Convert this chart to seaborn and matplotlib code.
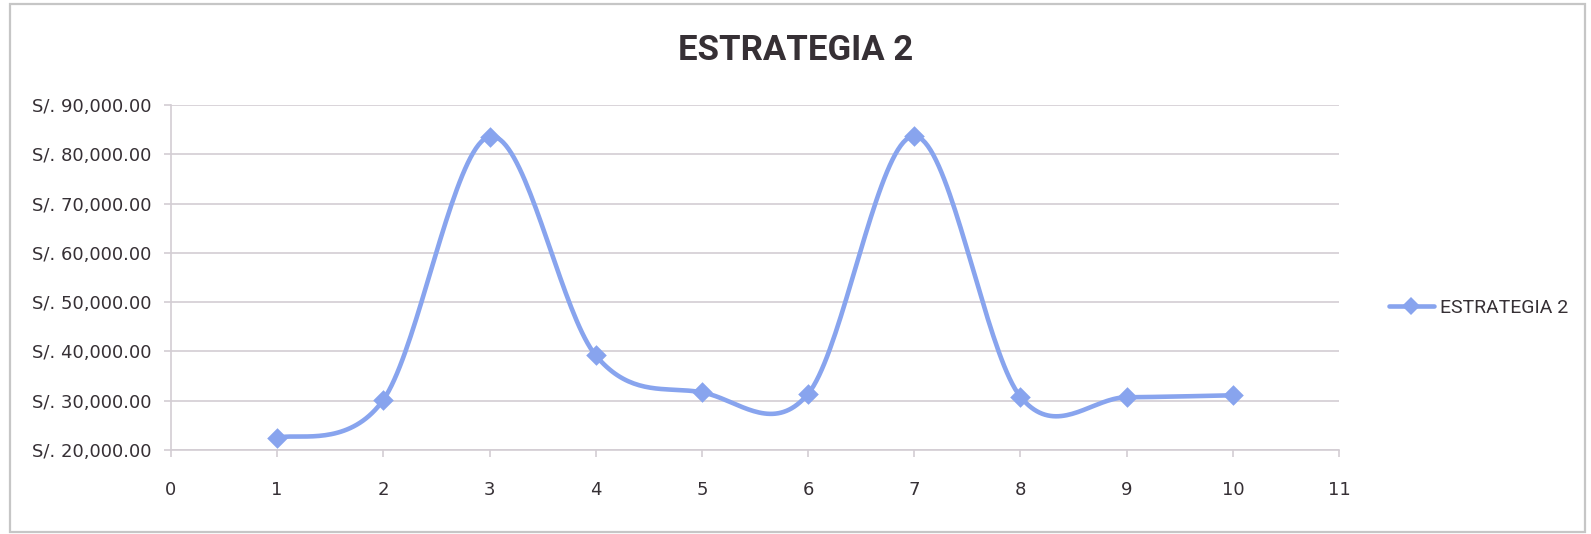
import numpy as np
import matplotlib
matplotlib.use("Agg")
import matplotlib.pyplot as plt
from matplotlib.lines import Line2D
from matplotlib.patches import Rectangle
from matplotlib.ticker import FuncFormatter
import seaborn as sns

# Series data
periods = [1, 2, 3, 4, 5, 6, 7, 8, 9, 10]
values = [22400, 30200, 83600, 39200, 31700, 31400, 83700, 30800, 30700, 31100]
series_name = "ESTRATEGIA 2"
chart_title = "ESTRATEGIA 2"
x_ticks = list(range(0, 12))
y_ticks = [20000, 30000, 40000, 50000, 60000, 70000, 80000, 90000]

LINE_COLOR = "#88a4ee"
GRID_COLOR = "#d3cdd3"
TEXT_COLOR = "#363035"

sns.set_theme(style="white")
plt.rcParams["font.family"] = ["DejaVu Sans"]
HEAD_FONT = ["Roboto", "DejaVu Sans"]


def smooth_curve(xs, ys, steps=40):
    """Bezier smoothing through every point (Catmull-Rom style control points)."""
    px = np.asarray(xs, float)
    py = np.asarray(ys, float)
    n = len(px)
    out_x, out_y = [], []
    t = np.linspace(0, 1, steps)
    for i in range(n - 1):
        i0, i3 = max(i - 1, 0), min(i + 2, n - 1)
        for p, store in ((px, out_x), (py, out_y)):
            p0, p1, p2, p3 = p[i0], p[i], p[i + 1], p[i3]
            c1 = p1 + (p2 - p0) / 6.0
            c2 = p2 - (p3 - p1) / 6.0
            b = ((1 - t) ** 3 * p1 + 3 * (1 - t) ** 2 * t * c1
                 + 3 * (1 - t) * t ** 2 * c2 + t ** 3 * p2)
            store.extend(b if i == 0 else b[1:])
    return np.array(out_x), np.array(out_y)


W, H = 1591, 534
fig = plt.figure(figsize=(W / 100, H / 100), dpi=100)
ax = fig.add_axes([171 / W, 1 - 450 / H, (1339 - 171) / W, (450 - 105) / H])

sx, sy = smooth_curve(periods, values)
sns.lineplot(x=sx, y=sy, ax=ax, color=LINE_COLOR, linewidth=3.3, sort=False,
             estimator=None, zorder=3)
sns.scatterplot(x=periods, y=values, ax=ax, marker="D", s=110, color=LINE_COLOR,
                edgecolor=LINE_COLOR, linewidth=0, zorder=4)

ax.set_xlim(0, 11)
ax.set_ylim(20000, 90000)
ax.set_xticks(x_ticks)
ax.set_yticks(y_ticks)
ax.yaxis.set_major_formatter(FuncFormatter(lambda v, _: f"S/. {v:,.2f}"))

ax.grid(axis="y", color=GRID_COLOR, linewidth=1.2)
ax.grid(axis="x", visible=False)
for side in ("top", "right"):
    ax.spines[side].set_visible(False)
for side in ("left", "bottom"):
    ax.spines[side].set_color(GRID_COLOR)
    ax.spines[side].set_linewidth(1.2)

ax.tick_params(axis="y", which="major", direction="out", length=5, width=1.2,
               color=GRID_COLOR, pad=9, labelsize=13, labelcolor=TEXT_COLOR, left=True)
ax.tick_params(axis="x", which="major", direction="out", length=5, width=1.2,
               color=GRID_COLOR, pad=17, labelsize=13, labelcolor=TEXT_COLOR, bottom=True)
ax.set_xlabel("")
ax.set_ylabel("")

fig.text(796 / W, 1 - 51 / H, chart_title, ha="center", va="center",
         fontsize=25, fontweight="bold", color=TEXT_COLOR, family=HEAD_FONT)

handle = Line2D([], [], color=LINE_COLOR, linewidth=3.3, marker="D",
                markersize=9, markeredgewidth=0)
fig.legend([handle], [series_name], loc="center left",
           bbox_to_anchor=(1389 / W, 1 - 308 / H), frameon=False,
           handlelength=2.3, handletextpad=0.3, borderpad=0, borderaxespad=0,
           prop={"family": HEAD_FONT, "size": 14}, labelcolor=TEXT_COLOR)

fig.patches.append(Rectangle((10 / W, 1 - 532 / H), (1585 - 10) / W, (532 - 4) / H,
                             transform=fig.transFigure, fill=False,
                             edgecolor="#c6c6c6", linewidth=1.6))

fig.savefig("out.png", dpi=100)
